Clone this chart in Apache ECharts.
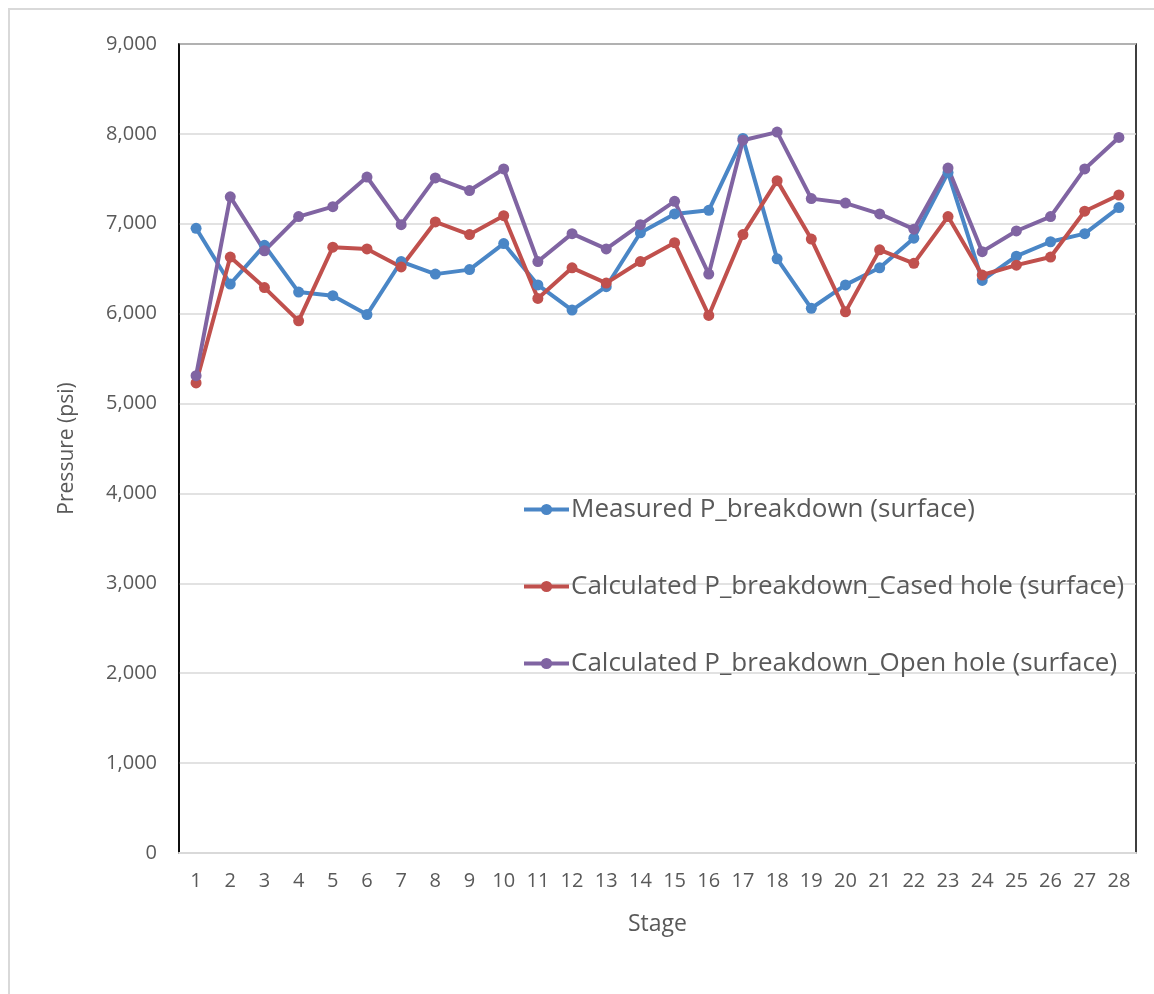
<!DOCTYPE html>
<html>
<head>
<meta charset="utf-8">
<style>
  html, body { margin: 0; padding: 0; background: #ffffff; }
  #chart { width: 1154px; height: 994px; }
</style>
<script src="https://cdn.jsdelivr.net/npm/echarts@6/dist/echarts.min.js"></script>
</head>
<body>
<div id="chart"></div>
<script>
// Breakdown pressure per frac stage, surface values in psi
const stages = ['1','2','3','4','5','6','7','8','9','10','11','12','13','14',
                '15','16','17','18','19','20','21','22','23','24','25','26','27','28'];

const measured = [6950, 6330, 6760, 6240, 6200, 5990, 6580, 6440, 6490, 6780,
                  6320, 6040, 6300, 6900, 7110, 7150, 7950, 6610, 6060, 6320,
                  6510, 6840, 7570, 6370, 6640, 6800, 6890, 7180];

const casedHole = [5230, 6630, 6290, 5920, 6740, 6720, 6520, 7020, 6880, 7090,
                   6170, 6510, 6340, 6580, 6790, 5980, 6880, 7480, 6830, 6020,
                   6710, 6560, 7080, 6430, 6540, 6630, 7140, 7320];

const openHole = [5310, 7300, 6700, 7080, 7190, 7520, 6990, 7510, 7370, 7610,
                  6580, 6890, 6720, 6990, 7250, 6440, 7930, 8020, 7280, 7230,
                  7110, 6940, 7620, 6690, 6920, 7080, 7610, 7960];

const seriesNames = [
  'Measured P_breakdown (surface)',
  'Calculated P_breakdown_Cased hole (surface)',
  'Calculated P_breakdown_Open hole (surface)'
];
const seriesColors = ['#4A86C6', '#C0504D', '#8064A2'];

const FONT = 'Open Sans';
const TEXT = '#595959';

const chart = echarts.init(document.getElementById('chart'), null, { renderer: 'canvas' });

function lineSeries(name, data, color) {
  return {
    name: name,
    type: 'line',
    data: data,
    symbol: 'circle',
    symbolSize: 11,
    lineStyle: { width: 4, color: color },
    itemStyle: { color: color },
    emphasis: { disabled: true },
    animation: false
  };
}

chart.setOption({
  animation: false,
  backgroundColor: '#ffffff',
  graphic: [{
    type: 'rect',
    shape: { x: 9, y: 9, width: 1160, height: 1000 },
    style: { fill: 'none', stroke: '#d9d9d9', lineWidth: 2 },
    silent: true,
    z: -10
  }],
  grid: {
    left: 179, right: 18, top: 44, bottom: 141,
    show: true,
    borderColor: '#000000',
    borderWidth: 1.5,
    backgroundColor: 'transparent'
  },
  legend: {
    orient: 'vertical',
    left: 517,
    top: 489,
    itemWidth: 45,
    itemHeight: 14,
    itemGap: 46,
    lineStyle: { width: 4 },
    textStyle: { fontFamily: FONT, fontSize: 26, color: TEXT, lineHeight: 31, padding: [0, 0, 0, -3] },
    data: seriesNames
  },
  xAxis: {
    type: 'category',
    data: stages,
    boundaryGap: true,
    name: 'Stage',
    nameLocation: 'middle',
    nameGap: 60,
    nameTextStyle: { fontFamily: FONT, fontSize: 23, color: TEXT },
    axisLine: { show: true, lineStyle: { color: '#d9d9d9', width: 2 } },
    axisTick: { show: false },
    axisLabel: { fontFamily: FONT, fontSize: 20, color: TEXT, margin: 18, interval: 0 },
    splitLine: { show: false },
    z: 5
  },
  yAxis: {
    type: 'value',
    min: 0,
    max: 9000,
    interval: 1000,
    name: 'Pressure (psi)',
    nameLocation: 'middle',
    nameGap: 101,
    nameTextStyle: { fontFamily: FONT, fontSize: 21, color: TEXT },
    axisLine: { show: true, lineStyle: { color: '#000000', width: 1.5 } },
    axisTick: { show: false },
    axisLabel: {
      fontFamily: FONT, fontSize: 20, color: TEXT, margin: 22,
      formatter: v => v.toLocaleString('en-US')
    },
    splitLine: { show: true, lineStyle: { color: '#d9d9d9', width: 1.5 } }
  },
  series: [
    lineSeries(seriesNames[0], measured, seriesColors[0]),
    lineSeries(seriesNames[1], casedHole, seriesColors[1]),
    lineSeries(seriesNames[2], openHole, seriesColors[2])
  ]
});
</script>
</body>
</html>
